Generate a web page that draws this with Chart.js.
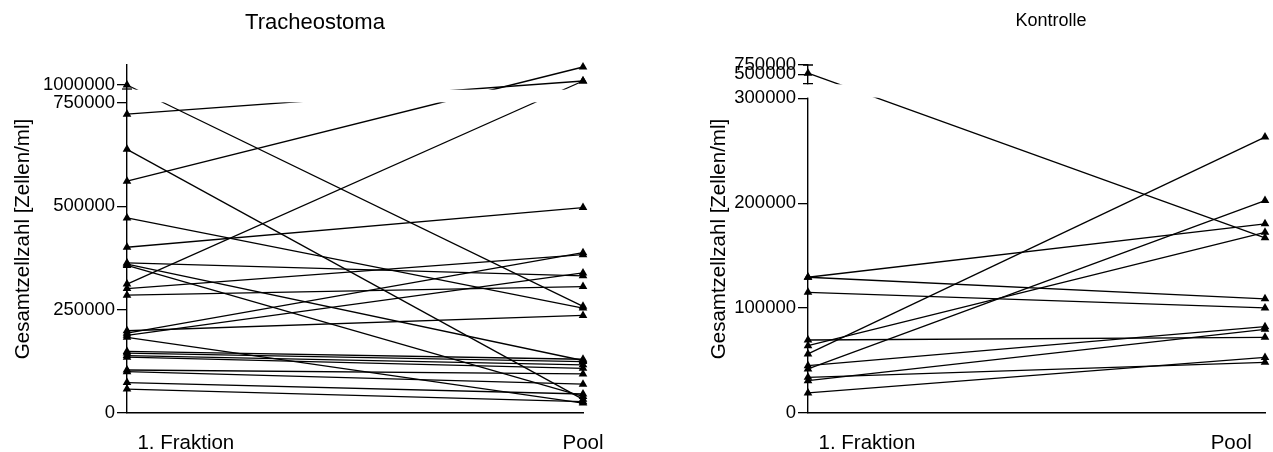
<!DOCTYPE html>
<html lang="de">
<head>
<meta charset="UTF-8">
<title>Gesamtzellzahl</title>
<style>
  body { margin: 0; background: #fff; overflow: hidden; }
  .charts { position: relative; width: 1273px; height: 452px; overflow: hidden; }
  canvas { position: absolute; top: 0; display: block; }
  #tracheo { left: 0; }
  #kontrolle { left: 690px; }
  .titel {
    position: absolute; width: 300px; margin-left: -150px;
    font-family: "Liberation Sans", Arial, Helvetica, sans-serif;
    text-align: center; color: #000;
  }
</style>
</head>
<body>
<div class="charts">
  <canvas id="tracheo" width="630" height="452"></canvas>
  <canvas id="kontrolle" width="722" height="452"></canvas>
  <div class="titel" style="left: 315px; top: 8px; font-size: 22px; line-height: 28px">Tracheostoma</div>
  <div class="titel" style="left: 1051px; top: 9px; font-size: 18px; line-height: 22px">Kontrolle</div>
</div>

<script src="https://cdn.jsdelivr.net/npm/chart.js"></script>
<script>
// x-Kategorien
const categories = ['1. Fraktion', 'Pool'];

// Tracheostoma: Gesamtzellzahl pro Patient, 1. Fraktion -> Pool
const tracheoFraktion = [1000000, 723000, 638000, 561000, 472000, 401000, 363000, 360000, 357000, 312000, 301000, 285000,
                         199000, 193000, 188000, 183000, 149000, 145000, 139000, 135000, 104000, 100000, 73500, 58000];
const tracheoPool     = [258000, 1040000, 33000, 1180000, 254000, 497000, 332000, 127000, 40000, 1040000, 383000, 306000,
                         236000, 388000, 339000, 24000, 130000, 124500, 116500, 108000, 94600, 69700, 46000, 27400];
const tracheoTicks = [0, 250000, 500000, 750000, 1000000];

// Kontrolle
const kontrolleFraktion = [530000, 129400, 129400, 115000, 69600, 64200, 56300, 45100, 42000, 34000, 30800, 19100];
const kontrollePool     = [167000, 180300, 108800, 100200, 72100, 172300, 263000, 82300, 202500, 48300, 79800, 53000];
const kontrolleTicks = [0, 100000, 200000, 300000, 500000, 750000];

Chart.defaults.font.family = '"Liberation Sans", Arial, Helvetica, sans-serif';
Chart.defaults.font.size = 18.5;
Chart.defaults.color = '#000';

// gebrochene y-Achse: unterer Teil linear, oberer Teil gestaucht
function breakScale(b) {
  return v => v <= b.lowMax ? v : b.lowMax + b.gap + (v - b.highMin) * b.k;
}

// Lücke ausblenden und Achsenenden markieren
const axisBreak = {
  id: 'axisBreak',
  afterDatasetsDraw(chart, args, o) {
    const { ctx, chartArea: area, scales: { y } } = chart;
    const yHigh = y.getPixelForValue(o.lowMax + o.gap);
    const yLow = y.getPixelForValue(o.lowMax);
    const x = area.left;
    const x0 = o.cutAxis ? x - 3 : x + 1;
    ctx.save();
    ctx.fillStyle = '#fff';
    ctx.fillRect(x0, yHigh + 0.7, chart.width - x0, yLow - yHigh - 1.4);
    ctx.strokeStyle = '#000';
    ctx.lineWidth = 1.3;
    ctx.beginPath();
    ctx.moveTo(x - 5, yHigh);
    ctx.lineTo(x + 5, yHigh);
    if (o.cutAxis) {
      ctx.moveTo(x - 5, area.top);
      ctx.lineTo(x + 5, area.top);
    }
    ctx.stroke();
    ctx.restore();
  }
};

function makeChart(id, cfg) {
  const disp = breakScale(cfg.brk);
  new Chart(document.getElementById(id), {
    type: 'line',
    data: {
      datasets: cfg.fraktion.map((f, i) => ({
        data: [{ x: 0, y: disp(f) }, { x: 1, y: disp(cfg.pool[i]) }],
        borderColor: '#000',
        borderWidth: 1.3,
        pointStyle: 'triangle',
        pointRadius: 5,
        pointBackgroundColor: '#000',
        pointBorderColor: '#000',
        pointBorderWidth: 0,
        clip: false
      }))
    },
    options: {
      responsive: false,
      animation: false,
      events: [],
      layout: { padding: { left: 0, right: cfg.padRight, top: 65, bottom: 0 } },
      plugins: {
        legend: { display: false },
        tooltip: { enabled: false },
        axisBreak: Object.assign({ cutAxis: cfg.cutAxis }, cfg.brk)
      },
      scales: {
        x: {
          type: 'linear',
          min: 0,
          max: 1,
          grid: { display: false },
          border: { display: true, color: '#000', width: 1.4 },
          afterBuildTicks: s => { s.ticks = cfg.labelPos.map(v => ({ value: v })); },
          afterFit: s => { s.height = 39; },
          ticks: {
            autoSkip: false,
            maxRotation: 0,
            padding: 10,
            font: { size: 20.5 },
            callback: (v, i) => categories[i]
          }
        },
        y: {
          type: 'linear',
          min: 0,
          max: disp(cfg.axisTop),
          grid: { display: true, drawOnChartArea: false, drawTicks: true, tickLength: 10, color: '#000', lineWidth: 1.3 },
          border: { display: true, color: '#000', width: 1.4 },
          afterBuildTicks: s => { s.ticks = cfg.ticks.map(v => ({ value: disp(v) })); },
          afterFit: s => { s.width = cfg.axisWidth; },
          ticks: {
            autoSkip: false,
            padding: 2,
            callback: (v, i) => String(cfg.ticks[i])
          },
          title: {
            display: true,
            text: 'Gesamtzellzahl [Zellen/ml]',
            font: { size: 20.5 },
            padding: { top: cfg.titlePad, bottom: 0 }
          }
        }
      }
    },
    plugins: [axisBreak]
  });
}

makeChart('tracheo', {
  fraktion: tracheoFraktion,
  pool: tracheoPool,
  ticks: tracheoTicks,
  axisTop: 1200000,
  brk: { lowMax: 750000, highMin: 960000, gap: 33900, k: 0.242 },
  cutAxis: false,
  axisWidth: 127,
  padRight: 47,
  titlePad: 11,
  labelPos: [0.129, 1]
});

makeChart('kontrolle', {
  fraktion: kontrolleFraktion,
  pool: kontrollePool,
  ticks: kontrolleTicks,
  axisTop: 750000,
  brk: { lowMax: 300000, highMin: 250000, gap: 14000, k: 0.0355 },
  cutAxis: true,
  axisWidth: 118,
  padRight: 147,
  titlePad: 17,
  labelPos: [0.129, 0.926]
});
</script>
</body>
</html>
